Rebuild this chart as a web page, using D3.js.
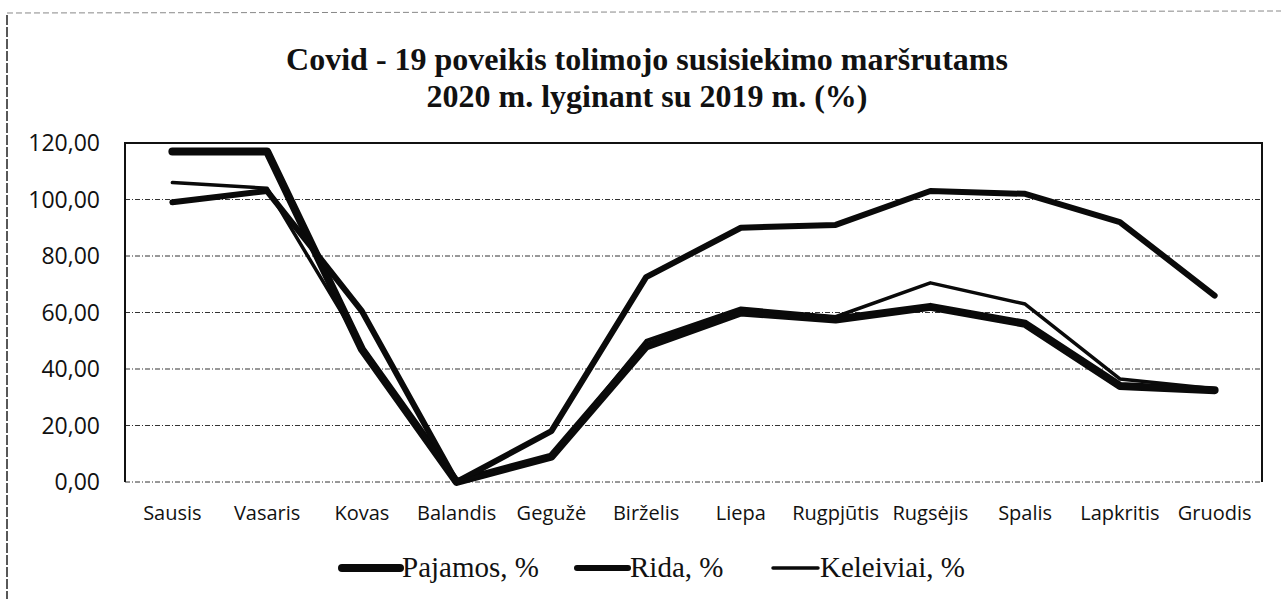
<!DOCTYPE html>
<html>
<head>
<meta charset="utf-8">
<script src="https://cdn.jsdelivr.net/npm/d3@7"></script>
<style>
  body { margin: 0; background: #fff; }
  svg { display: block; }
  .tick-y { font-family: "Open Sans", sans-serif; font-size: 23px; fill: #111; }
  .tick-x { font-family: "Open Sans", sans-serif; font-size: 20px; fill: #111; }
  .title { font-family: "Liberation Serif", serif; font-weight: bold; font-size: 32px; fill: #111; }
  .legend-text { font-family: "Liberation Serif", serif; font-size: 29px; fill: #111; }
</style>
</head>
<body>
<svg id="chart" width="1281" height="599"></svg>
<script>
// Data
const months = ['Sausis', 'Vasaris', 'Kovas', 'Balandis', 'Gegužė', 'Birželis',
  'Liepa', 'Rugpjūtis', 'Rugsėjis', 'Spalis', 'Lapkritis', 'Gruodis'];
const pajamos = [117, 117, 47, 0, 9, 48, 60, 57.5, 62, 56, 34, 32.5];
const rida = [99, 103, 60.5, 0, 18, 72.5, 90, 91, 103, 102, 92, 66];
const keleiviai = [106, 104, 48, 0, 9, 50, 61.5, 58.5, 70.5, 63, 36.5, 33];
const yTicks = [0, 20, 40, 60, 80, 100, 120];
const seriesNames = ['Pajamos, %', 'Rida, %', 'Keleiviai, %'];

const series = [
  { name: seriesNames[0], values: pajamos, width: 8 },
  { name: seriesNames[1], values: rida, width: 6 },
  { name: seriesNames[2], values: keleiviai, width: 3.5 }
];

const svg = d3.select('#chart');
const plot = { left: 125, right: 1262, top: 143, bottom: 482 };

const x = d3.scalePoint().domain(months).range([plot.left, plot.right]).padding(0.5);
const y = d3.scaleLinear().domain([0, 120]).range([plot.bottom, plot.top]);

// outer frame (scanned page border)
svg.append('line')
  .attr('x1', 7).attr('x2', 7).attr('y1', 15).attr('y2', 599)
  .attr('stroke', '#222').attr('stroke-width', 1.5).attr('stroke-dasharray', '10,2');
svg.append('line')
  .attr('x1', 7).attr('x2', 1281).attr('y1', 13).attr('y2', 11)
  .attr('stroke', '#888').attr('stroke-width', 1).attr('stroke-dasharray', '6,3');

// title
svg.append('text').attr('class', 'title')
  .attr('x', 647).attr('y', 70).attr('text-anchor', 'middle')
  .text('Covid - 19 poveikis tolimojo susisiekimo maršrutams');
svg.append('text').attr('class', 'title')
  .attr('x', 647).attr('y', 107).attr('text-anchor', 'middle')
  .text('2020 m. lyginant su 2019 m. (%)');

// gridlines
svg.append('g').selectAll('line')
  .data(yTicks)
  .join('line')
  .attr('x1', plot.left).attr('x2', plot.right)
  .attr('y1', d => y(d)).attr('y2', d => y(d))
  .attr('stroke', '#333').attr('stroke-width', 1)
  .attr('stroke-dasharray', '5,2,1,2');

// plot border (top, left, right)
svg.append('path')
  .attr('d', `M${plot.left},${plot.bottom}V${plot.top}H${plot.right}V${plot.bottom}`)
  .attr('fill', 'none').attr('stroke', '#111').attr('stroke-width', 2);

// y labels
svg.append('g').selectAll('text')
  .data(yTicks)
  .join('text')
  .attr('class', 'tick-y')
  .attr('x', 100).attr('y', d => y(d))
  .attr('dy', '0.36em')
  .attr('text-anchor', 'end')
  .text(d => d3.format('.2f')(d).replace('.', ','));

// x labels
svg.append('g').selectAll('text')
  .data(months)
  .join('text')
  .attr('class', 'tick-x')
  .attr('x', d => x(d)).attr('y', 520)
  .attr('text-anchor', 'middle')
  .text(d => d);

// lines
const line = d3.line()
  .x((d, i) => x(months[i]))
  .y(d => y(d));

svg.append('g').selectAll('path')
  .data(series)
  .join('path')
  .attr('d', d => line(d.values))
  .attr('fill', 'none')
  .attr('stroke', '#0a0a0a')
  .attr('stroke-width', d => d.width)
  .attr('stroke-linejoin', 'round')
  .attr('stroke-linecap', 'round');

// legend
const legendPos = [{ x1: 342, x2: 400 }, { x1: 577, x2: 628 }, { x1: 773, x2: 818 }];
const legend = svg.append('g').selectAll('g')
  .data(series)
  .join('g');
legend.append('line')
  .attr('x1', (d, i) => legendPos[i].x1).attr('x2', (d, i) => legendPos[i].x2)
  .attr('y1', 568).attr('y2', 568)
  .attr('stroke', '#0a0a0a')
  .attr('stroke-width', d => d.width)
  .attr('stroke-linecap', 'round');
legend.append('text')
  .attr('class', 'legend-text')
  .attr('x', (d, i) => legendPos[i].x2 + 2)
  .attr('y', 577)
  .text(d => d.name);
</script>
</body>
</html>
